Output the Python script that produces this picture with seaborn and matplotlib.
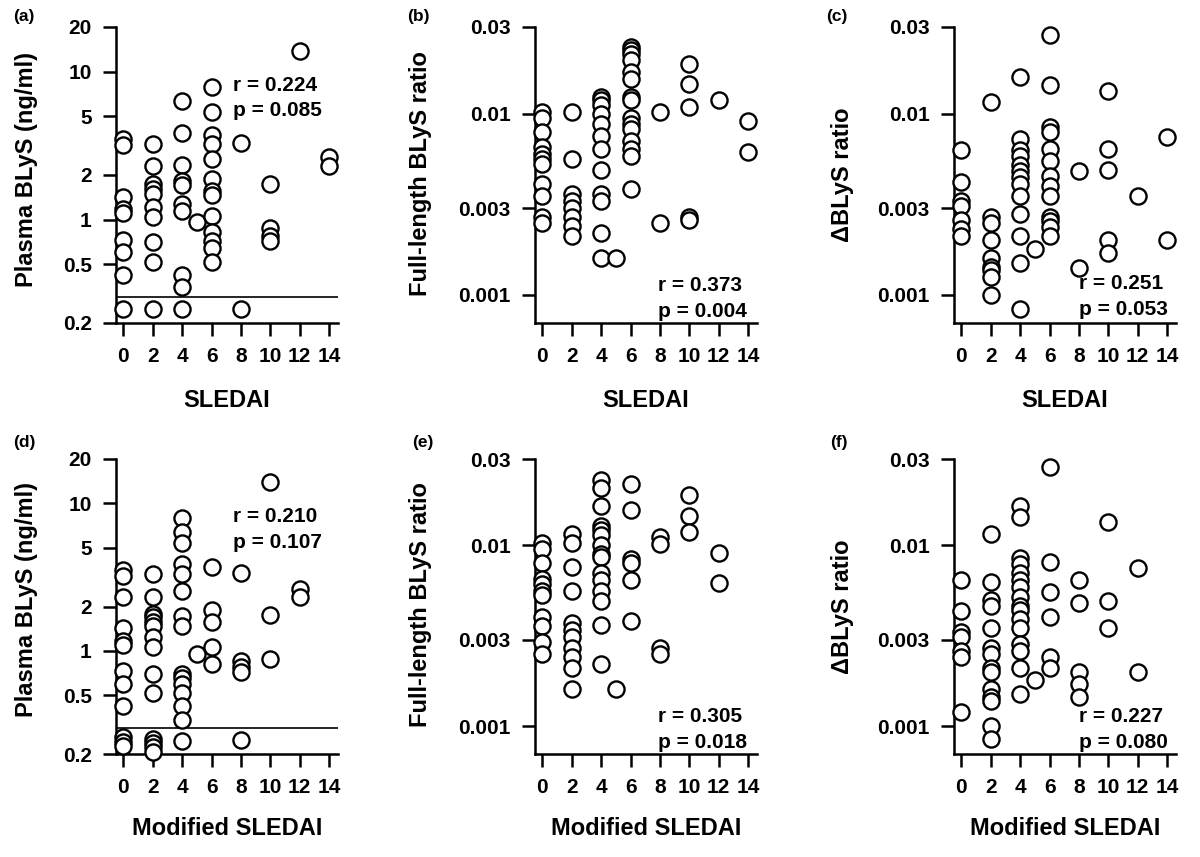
import numpy as np
import pandas as pd
import matplotlib
matplotlib.use("Agg")
import matplotlib.pyplot as plt
from matplotlib.ticker import FixedLocator, FixedFormatter, NullLocator
import seaborn as sns

# ---------------- data ----------------
# Panel (a): SLEDAI vs plasma BLyS (ng/ml)
a_x = [0]*9 + [2]*10 + [4]*10 + [5] + [6]*13 + [8]*2 + [10]*4 + [12] + [14]*2
a_y = [3.5, 3.2, 1.42, 1.18, 1.1, 0.73, 0.6, 0.42, 0.25,
       3.26, 2.3, 1.75, 1.62, 1.48, 1.22, 1.04, 0.70, 0.52, 0.25,
       6.3, 3.85, 2.34, 1.81, 1.72, 1.28, 1.15, 0.42, 0.35, 0.25,
       0.97,
       7.9, 5.3, 3.7, 3.26, 2.58, 1.89, 1.57, 1.46, 1.05, 0.82, 0.72, 0.64, 0.52,
       3.3, 0.25,
       1.75, 0.88, 0.78, 0.72,
       13.8,
       2.65, 2.3]

# Panel (b): SLEDAI vs full-length BLyS ratio
b_x = [0]*11 + [2]*8 + [4]*12 + [5] + [6]*15 + [8]*2 + [10]*5 + [12] + [14]*2
b_y = [0.0102, 0.0095, 0.0079, 0.0065, 0.0060, 0.0056, 0.0053, 0.0041, 0.0035, 0.0027, 0.0025,
       0.0102, 0.0056, 0.0036, 0.0033, 0.0030, 0.0027, 0.0024, 0.0021,
       0.0123, 0.0118, 0.0112, 0.0100, 0.0088, 0.0075, 0.0064, 0.0049, 0.0036, 0.0033, 0.0022, 0.0016,
       0.0016,
       0.0234, 0.0223, 0.0212, 0.0198, 0.0169, 0.0156, 0.0123, 0.0119, 0.0094, 0.0088, 0.0082,
       0.0071, 0.0064, 0.0058, 0.00385,
       0.0102, 0.0025,
       0.0188, 0.0146, 0.0108, 0.0027, 0.0026,
       0.0119,
       0.0091, 0.0061]

# Panel (c): SLEDAI vs delta-BLyS ratio
c_x = [0]*7 + [2]*9 + [4]*13 + [5] + [6]*13 + [8]*2 + [10]*5 + [12] + [14]*2
c_y = [0.0063, 0.0042, 0.0033, 0.0031, 0.0026, 0.0023, 0.0021,
       0.0116, 0.0027, 0.00248, 0.0020, 0.0016, 0.00142, 0.00138, 0.00125, 0.0010,
       0.016, 0.0072, 0.0063, 0.0058, 0.0052, 0.00485, 0.00446, 0.0041, 0.0035, 0.0028, 0.0021, 0.0015, 0.00084,
       0.0018,
       0.027, 0.0143, 0.0084, 0.0079, 0.0064, 0.0055, 0.0045, 0.0040, 0.0035, 0.0027, 0.00257, 0.00236, 0.0021,
       0.0048, 0.0014,
       0.0133, 0.0064, 0.0049, 0.0020, 0.0017,
       0.0035,
       0.0074, 0.0020]

# Panel (d): modified SLEDAI vs plasma BLyS (ng/ml)
d_x = [0]*12 + [2]*14 + [4]*15 + [5] + [6]*5 + [8]*5 + [10]*3 + [12]*2
d_y = [3.54, 3.2, 2.33, 1.42, 1.17, 1.10, 0.73, 0.60, 0.42, 0.26, 0.24, 0.228,
       3.32, 2.33, 1.78, 1.69, 1.56, 1.48, 1.24, 1.06, 0.70, 0.52, 0.253, 0.236, 0.222, 0.205,
       7.96, 6.37, 5.36, 3.88, 3.32, 2.56, 1.73, 1.48, 0.70, 0.65, 0.60, 0.52, 0.42, 0.34, 0.246,
       0.96,
       3.69, 1.89, 1.56, 1.06, 0.81,
       3.35, 0.86, 0.78, 0.72, 0.25,
       13.9, 1.75, 0.88,
       2.63, 2.33]

# Panel (e): modified SLEDAI vs full-length BLyS ratio
e_x = [0]*11 + [2]*11 + [4]*15 + [5] + [6]*6 + [8]*4 + [10]*3 + [12]*2
e_y = [0.0103, 0.0095, 0.0080, 0.0065, 0.0061, 0.0056, 0.0053, 0.0040, 0.00356, 0.0029, 0.0025,
       0.0116, 0.0103, 0.0076, 0.0056, 0.0037, 0.0034, 0.0031, 0.0027, 0.0024, 0.0021, 0.0016,
       0.023, 0.0207, 0.0164, 0.0128, 0.0121, 0.0114, 0.0100, 0.0090, 0.0086, 0.0070, 0.0064,
       0.0056, 0.0049, 0.0036, 0.0022,
       0.0016,
       0.0218, 0.0157, 0.0084, 0.0080, 0.0064, 0.0038,
       0.0111, 0.0102, 0.0027, 0.0025,
       0.019, 0.0146, 0.0119,
       0.0091, 0.0062]

# Panel (f): modified SLEDAI vs delta-BLyS ratio
f_x = [0]*7 + [2]*14 + [4]*16 + [5] + [6]*6 + [8]*5 + [10]*3 + [12]*2
f_y = [0.0064, 0.0043, 0.0033, 0.0031, 0.0026, 0.0024, 0.0012,
       0.0116, 0.0063, 0.0050, 0.0046, 0.0035, 0.0027, 0.0025, 0.0021, 0.0020, 0.0016,
       0.00145, 0.00137, 0.0010, 0.00085,
       0.0164, 0.0144, 0.0085, 0.0079, 0.0070, 0.0064, 0.0059, 0.0052, 0.0046, 0.0044,
       0.0039, 0.0035, 0.00285, 0.0026, 0.0021, 0.0015,
       0.0018,
       0.0272, 0.0081, 0.0055, 0.0040, 0.0024, 0.0021,
       0.0064, 0.0048, 0.0020, 0.0017, 0.00144,
       0.0134, 0.0049, 0.0035,
       0.0075, 0.0020]

panel_tags = ["(a)", "(b)", "(c)", "(d)", "(e)", "(f)"]
x_labels = ["SLEDAI"] * 3 + ["Modified SLEDAI"] * 3
y_labels = ["Plasma BLyS (ng/ml)", "Full-length BLyS ratio", "\u0394BLyS ratio"] * 2
stats_r = ["r = 0.224", "r = 0.373", "r = 0.251", "r = 0.210", "r = 0.305", "r = 0.227"]
stats_p = ["p = 0.085", "p = 0.004", "p = 0.053", "p = 0.107", "p = 0.018", "p = 0.080"]

x_ticks = [0, 2, 4, 6, 8, 10, 12, 14]
plasma_ticks = [0.2, 0.5, 1, 2, 5, 10, 20]
plasma_tick_labels = ["0.2", "0.5", "1", "2", "5", "10", "20"]
ratio_ticks = [0.001, 0.003, 0.01, 0.03]
ratio_tick_labels = ["0.001", "0.003", "0.01", "0.03"]
detection_limit = 0.3

# ---------------- style ----------------
sns.set_theme(style="ticks")
plt.rcParams["font.family"] = ["Liberation Sans", "DejaVu Sans"]
plt.rcParams["font.weight"] = "bold"
plt.rcParams["axes.labelweight"] = "bold"
plt.rcParams["text.color"] = "black"
plt.rcParams["axes.labelcolor"] = "black"
plt.rcParams["xtick.color"] = "black"
plt.rcParams["ytick.color"] = "black"

fig = plt.figure(figsize=(12, 8.57), dpi=100)
W, H = 1200.0, 857.0
col_left = [116, 535, 954]
row_bottom = [323, 754]
row_top = [27, 459]
ax_w = 222

datasets = [(a_x, a_y), (b_x, b_y), (c_x, c_y), (d_x, d_y), (e_x, e_y), (f_x, f_y)]
tag_pos = [(13, 16), (407, 16), (826, 16), (13, 442), (412, 442), (830, 442)]
ylab_pos = [(-0.401, 0.52), (-0.516, 0.505), (-0.502, 0.50),
            (-0.401, 0.525), (-0.514, 0.508), (-0.502, 0.50)]
stat_pos = [(0.527, 0.785, 0.699), (0.556, 0.109, 0.021), (0.564, 0.114, 0.027),
            (0.527, 0.786, 0.699), (0.556, 0.108, 0.021), (0.564, 0.108, 0.021)]

for i, (xs, ys) in enumerate(datasets):
    r, c = divmod(i, 3)
    left = col_left[c] / W
    bottom = 1 - row_bottom[r] / H
    height = (row_bottom[r] - row_top[r]) / H
    ax = fig.add_axes([left, bottom, ax_w / W, height])
    ax.set_yscale("log")
    df = pd.DataFrame({"score": xs, "value": ys})
    sns.scatterplot(data=df, x="score", y="value", ax=ax, s=135, color="white",
                    edgecolor="black", linewidth=1.7, clip_on=False, zorder=3)
    ax.set_xlim(-0.5, 14.6)
    if c == 0:
        ax.set_ylim(0.2, 20)
        ax.yaxis.set_major_locator(FixedLocator(plasma_ticks))
        ax.yaxis.set_major_formatter(FixedFormatter(plasma_tick_labels))
        ax.axhline(detection_limit, color="black", linewidth=1.2, zorder=2)
    else:
        ax.set_ylim(0.0007, 0.03)
        ax.yaxis.set_major_locator(FixedLocator(ratio_ticks))
        ax.yaxis.set_major_formatter(FixedFormatter(ratio_tick_labels))
    ax.yaxis.set_minor_locator(NullLocator())
    ax.set_xticks(x_ticks)
    ax.set_xticklabels([str(t) for t in x_ticks])
    ax.tick_params(axis="both", which="major", direction="out", length=9.4,
                   width=1.8, pad=8.0, labelsize=15, color="black", labelcolor="black")
    for lab in ax.get_xticklabels() + ax.get_yticklabels():
        lab.set_fontweight("bold")
    sns.despine(ax=ax)
    for side in ("left", "bottom"):
        ax.spines[side].set_linewidth(1.8)
        ax.spines[side].set_color("black")
    ax.grid(False)
    ax.set_facecolor("white")

    ax.set_xlabel(x_labels[i], fontsize=17, fontweight="bold", color="black")
    ax.xaxis.set_label_coords(0.5, -0.222 if r == 0 else -0.212)
    ax.set_ylabel(y_labels[i], fontsize=17, fontweight="bold", color="black")
    ax.yaxis.label.set_va("center")
    ax.yaxis.set_label_coords(*ylab_pos[i])

    sx, ry, py = stat_pos[i]
    ax.text(sx, ry, stats_r[i], transform=ax.transAxes, fontsize=15,
            fontweight="bold", ha="left", va="baseline", zorder=2, color="black")
    ax.text(sx, py, stats_p[i], transform=ax.transAxes, fontsize=15,
            fontweight="bold", ha="left", va="baseline", zorder=2, color="black")

    tx, ty = tag_pos[i]
    fig.text(tx / W, 1 - ty / H, panel_tags[i], fontsize=12.5, fontweight="bold",
             ha="left", va="center", color="black")

fig.savefig("out.png", dpi=100, facecolor="white")
